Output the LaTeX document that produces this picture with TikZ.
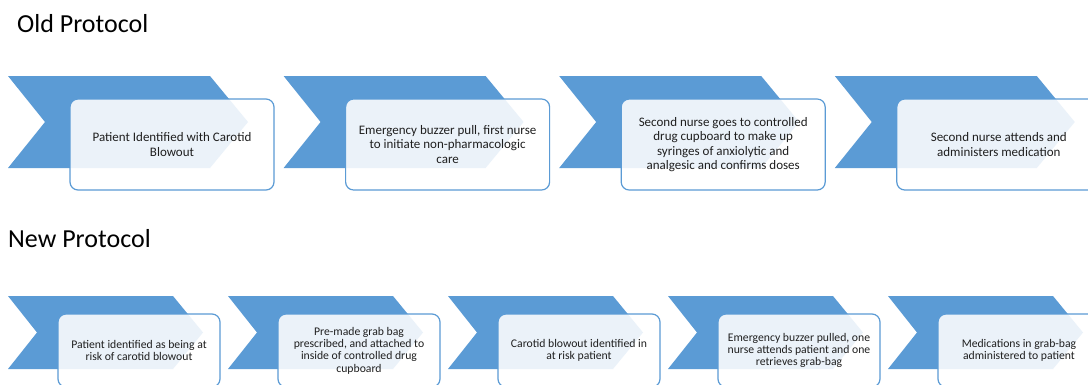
\documentclass[tikz,border=0pt]{standalone}
\usepackage{fontspec}
\setmainfont{Carlito}
\usepackage{tikz}
\usetikzlibrary{positioning}
\definecolor{chevblue}{HTML}{5B9BD5}
\definecolor{ink}{HTML}{1F1F1F}
\tikzset{
    every picture/.style={line join=round},
    chevron/.style={fill=chevblue},
    stepbox/.style={draw=chevblue,fill=white,fill opacity=0.88,text opacity=1,
      line width=1.2pt,rounded corners=8pt,inner sep=3pt,
      text=ink,align=center},
    oldbox/.style={stepbox,minimum width=204pt,minimum height=91pt,
      font=\fontsize{13}{14.5}\selectfont},
    newbox/.style={stepbox,minimum width=162pt,minimum height=73pt,
      font=\fontsize{11.7}{12.4}\selectfont},
    rowtitle/.style={anchor=base west,inner sep=0pt,font=\fontsize{26}{30}\selectfont}
}
\begin{document}
\begin{tikzpicture}[x=1pt,y=-1pt]
  \clip (0,0) rectangle (1088,384);
  \fill[white] (0,0) rectangle (1088,384);
  \node[rowtitle] (oldtitle) at (17,32) {Old Protocol};
  \node[rowtitle] (newtitle) at (8,247) {New Protocol};
  % old protocol row
  \foreach \txt [count=\i from 0] in {
      {Patient Identified with Carotid\\Blowout},
      {Emergency buzzer pull, first nurse\\to initiate non-pharmacologic\\care},
      {Second nurse goes to controlled\\drug cupboard to make up\\syringes of anxiolytic and\\analgesic and confirms doses},
      {Second nurse attends and\\administers medication}}{
    \pgfmathsetmacro\xl{8+275.6*\i}
    \fill[chevron] (\xl,76) -- ++(202,0) -- ++(38,46) -- ++(-38,46)
      -- ++(-202,0) -- ++(37,-46) -- cycle;
    \node[oldbox] (old\i) at (\xl+164,144.5) {\txt};}
  % new protocol row
  \foreach \txt [count=\i from 0] in {
      {Patient identified as being at\\risk of carotid blowout},
      {Pre-made grab bag\\prescribed, and attached to\\inside of controlled drug\\cupboard},
      {Carotid blowout identified in\\at risk patient},
      {Emergency buzzer pulled, one\\nurse attends patient and one\\retrieves grab-bag},
      {Medications in grab-bag\\administered to patient}}{
    \pgfmathsetmacro\xl{8+220*\i}
    \fill[chevron] (\xl,296) -- ++(165,0) -- ++(30,36.5) -- ++(-30,36.5)
      -- ++(-165,0) -- ++(29,-36.5) -- cycle;
    \node[newbox] (new\i) at (\xl+131,350.5) {\txt};}
\end{tikzpicture}
\end{document}
